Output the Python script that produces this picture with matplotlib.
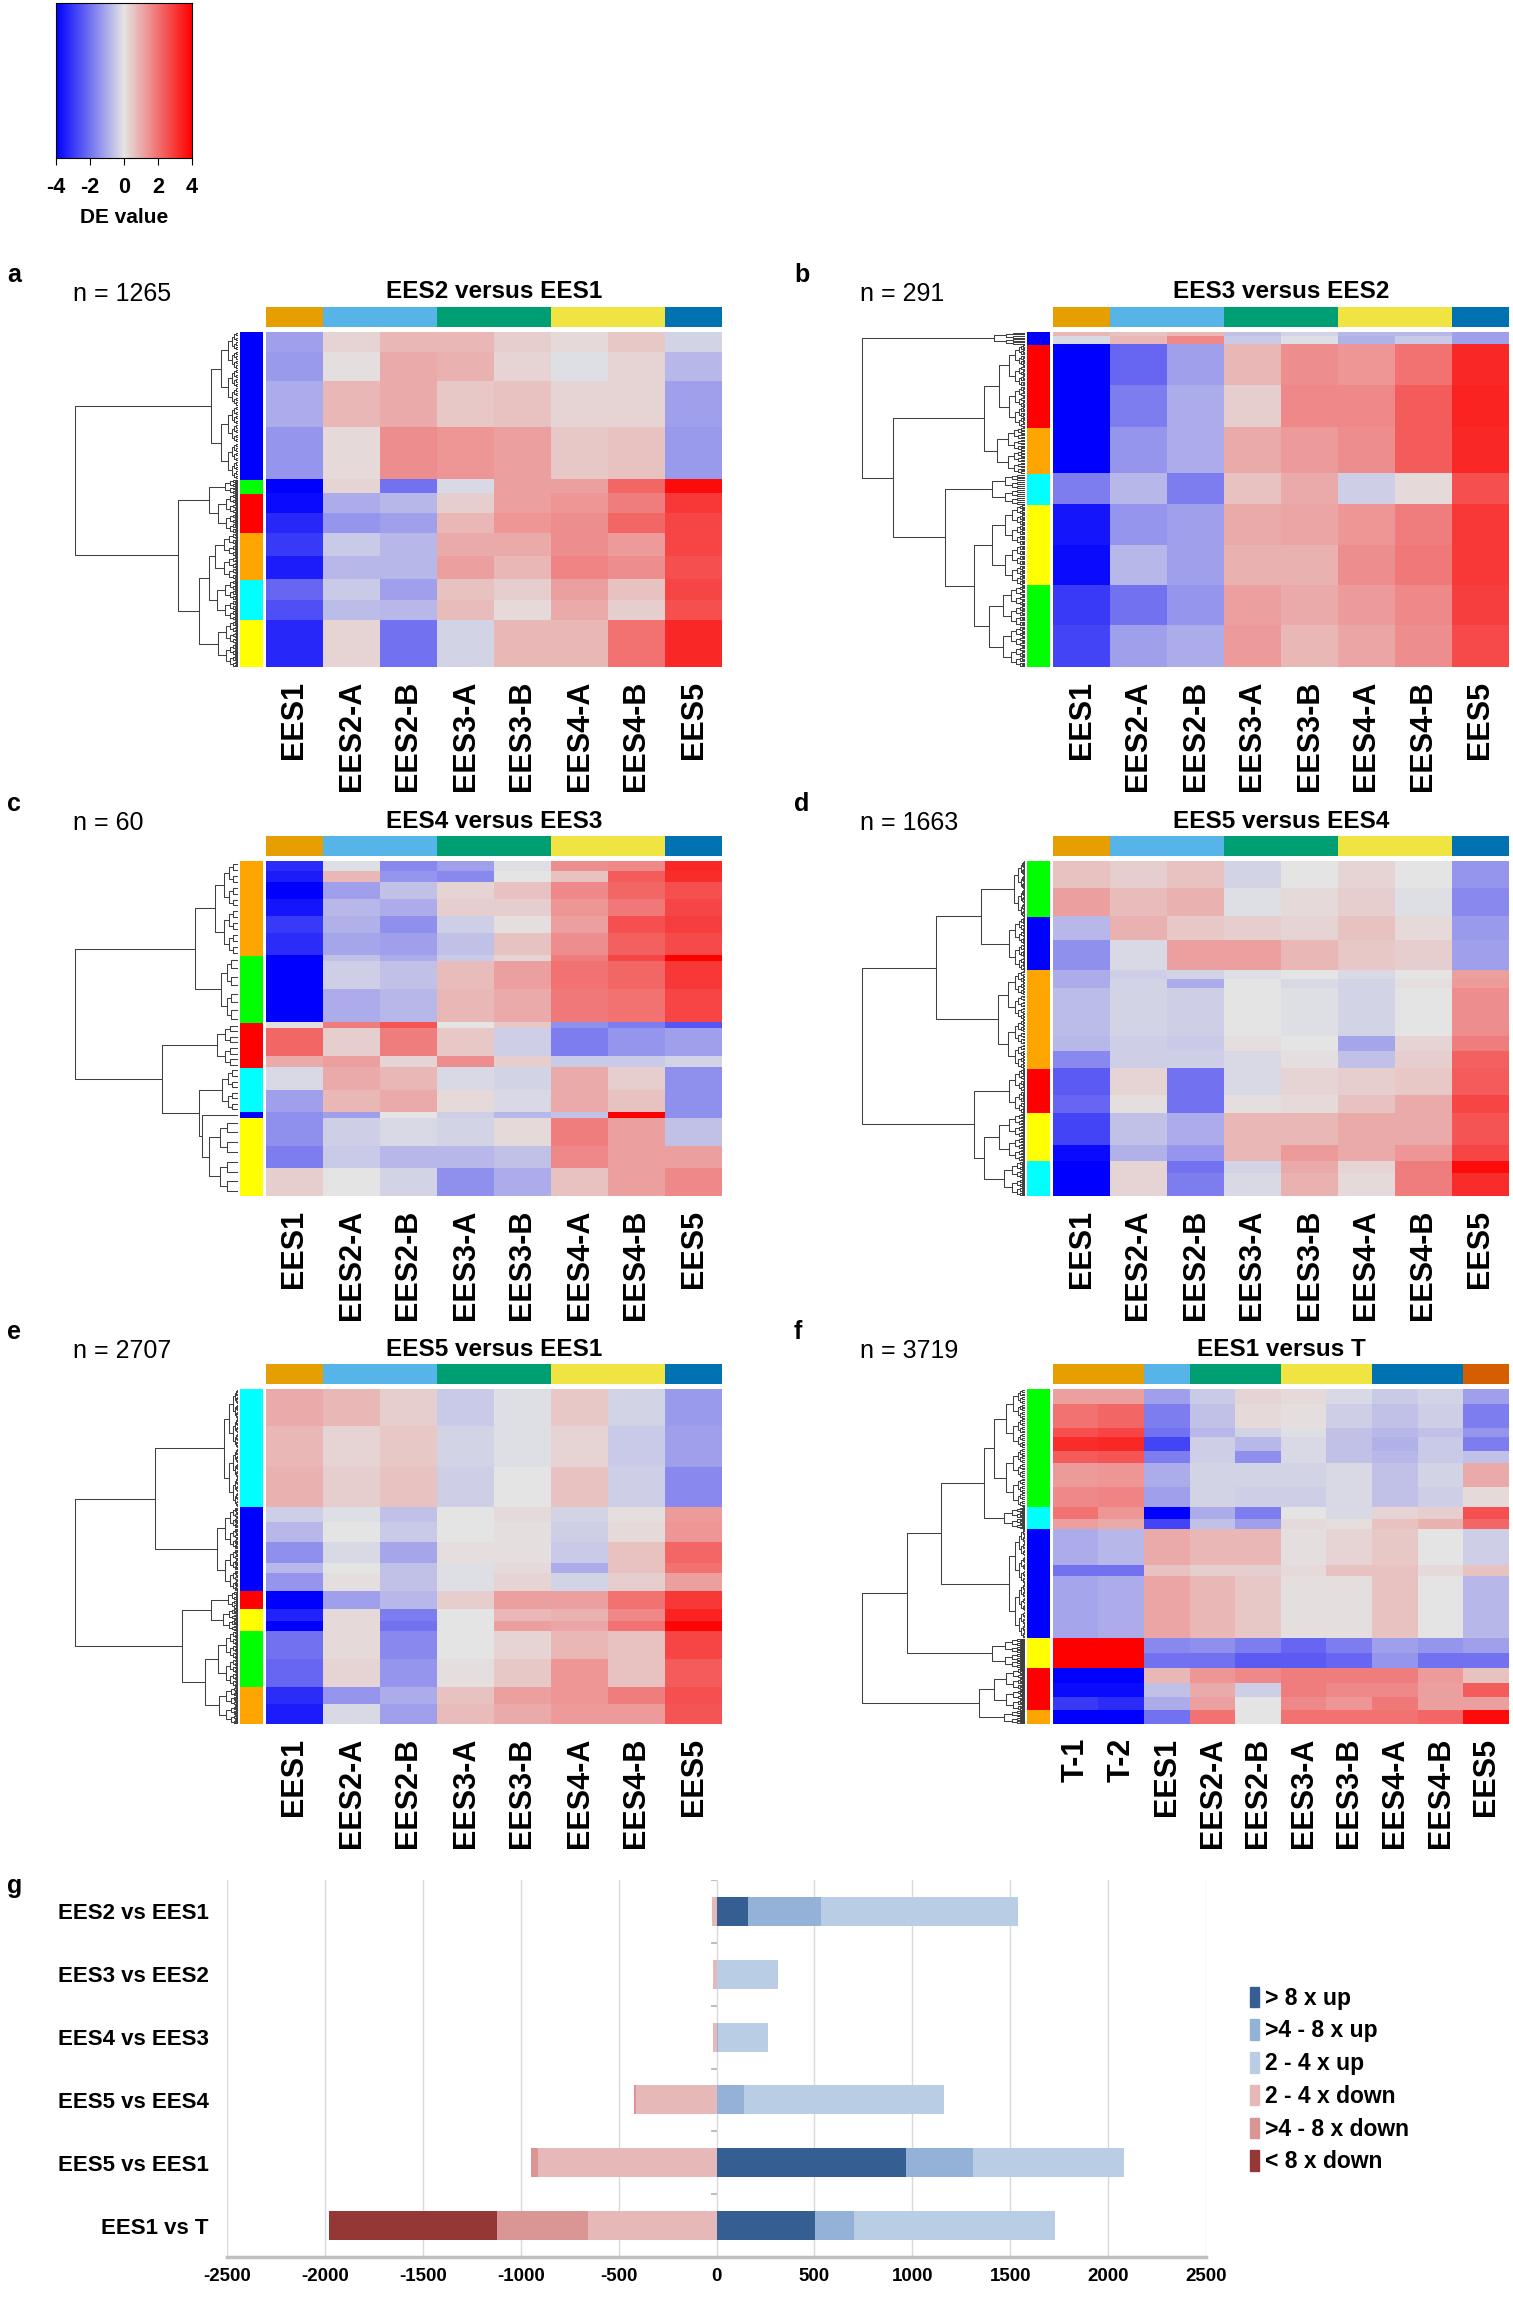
import numpy as np
import matplotlib.pyplot as plt
from matplotlib.colors import LinearSegmentedColormap
from matplotlib.collections import LineCollection
from matplotlib.patches import Patch

plt.rcParams['font.family'] = ['Liberation Sans', 'DejaVu Sans']
plt.rcParams['axes.unicode_minus'] = False

##########################
# column annotations
##########################
cols_ees = ["EES1", "EES2-A", "EES2-B", "EES3-A", "EES3-B", "EES4-A", "EES4-B", "EES5"]
groups_ees = [(1, "#E69F00"), (2, "#56B4E9"), (2, "#009E73"), (2, "#F0E442"), (1, "#0072B2")]
cols_t = ["T-1", "T-2", "EES1", "EES2-A", "EES2-B", "EES3-A", "EES3-B", "EES4-A", "EES4-B", "EES5"]
groups_t = [(2, "#E69F00"), (1, "#56B4E9"), (2, "#009E73"), (2, "#F0E442"), (2, "#0072B2"), (1, "#D55E00")]

row_colors = {"blue": "#0000FF", "green": "#00FF00", "red": "#FF0000",
              "orange": "#FFA500", "cyan": "#00FFFF", "yellow": "#FFFF00"}

##########################
# panel a : EES2 versus EES1
##########################
a_clusters = ["blue", "green", "red", "orange", "cyan", "yellow"]
a_bands = [
    (0, 80, [-1.2, 0.3, 0.8, 0.8, 0.4, 0.2, 0.5, -0.3]),
    (0, 110, [-1.3, 0.1, 1.0, 0.9, 0.3, -0.1, 0.3, -0.8]),
    (0, 170, [-1.0, 0.8, 1.0, 0.5, 0.6, 0.3, 0.3, -1.2]),
    (0, 197, [-1.4, 0.2, 1.5, 1.4, 1.2, 0.5, 0.6, -1.3]),
    (1, 54, [-4.5, 0.3, -2.0, -0.2, 1.2, 1.2, 2.2, 3.8]),
    (2, 74, [-3.8, -1.0, -0.8, 0.4, 1.2, 1.4, 1.8, 3.0]),
    (2, 74, [-3.3, -1.4, -1.2, 0.8, 1.4, 1.5, 2.2, 2.8]),
    (3, 88, [-3.0, -0.5, -0.8, 1.0, 1.0, 1.5, 1.3, 2.8]),
    (3, 88, [-3.5, -0.8, -0.8, 1.2, 0.8, 1.7, 1.5, 2.6]),
    (4, 77, [-2.2, -0.5, -1.2, 0.6, 0.4, 1.2, 0.6, 2.8]),
    (4, 77, [-2.6, -0.7, -0.8, 0.7, 0.2, 1.0, 0.4, 2.6]),
    (5, 176, [-3.3, 0.3, -2.0, -0.3, 0.8, 0.8, 2.0, 3.3]),
]
a_leaf_h = [0.166, 0.08, 0.12, 0.14, 0.13, 0.12]
a_tree = (1.0, 0, (0.367, (0.18, 1, 2), (0.24, (0.18, 3, 4), 5)))

##########################
# panel b : EES3 versus EES2
##########################
b_clusters = ["blue", "red", "orange", "cyan", "yellow", "green"]
b_bands = [
    (0, 4, [0.8, 0.6, 0.8, -0.6, -0.3, -0.8, -0.8, -1.2]),
    (0, 7, [-0.2, 0.8, 1.6, -0.5, -0.1, -0.9, -0.5, -1.2]),
    (1, 36, [-4.5, -2.2, -1.2, 0.8, 1.5, 1.4, 2.0, 3.3]),
    (1, 36, [-4.5, -1.8, -1.0, 0.4, 1.6, 1.6, 2.4, 3.4]),
    (2, 40, [-4.5, -1.4, -1.0, 1.0, 1.3, 1.5, 2.4, 3.3]),
    (3, 27, [-1.8, -0.8, -1.8, 0.6, 1.0, -0.4, 0.2, 2.6]),
    (4, 35, [-3.6, -1.4, -1.2, 1.0, 1.1, 1.4, 1.8, 3.0]),
    (4, 35, [-3.8, -0.8, -1.2, 0.9, 0.9, 1.5, 1.9, 3.0]),
    (5, 35, [-3.0, -2.0, -1.4, 1.2, 1.0, 1.3, 1.6, 2.9]),
    (5, 36, [-2.8, -1.2, -1.0, 1.3, 0.8, 1.1, 1.5, 2.7]),
]
b_leaf_h = [0.19, 0.16, 0.17, 0.2, 0.2, 0.22]
b_tree = (1.0, 0, (0.81, (0.25, 1, 2), (0.49, 3, (0.31, 4, 5))))

##########################
# panel c : EES4 versus EES3
##########################
c_clusters = ["orange", "green", "red", "cyan", "blue", "yellow"]
c_bands = [
    (0, 2, [-3.2, -0.1, -1.6, -1.2, -0.1, 1.5, 1.6, 3.3]),
    (0, 2, [-3.5, 0.8, -1.4, -1.6, 0.0, 0.6, 2.4, 3.2]),
    (0, 3, [-4.2, -1.2, -0.6, 0.3, 0.6, 1.6, 2.2, 2.6]),
    (0, 3, [-3.6, -0.8, -1.0, 0.4, 0.4, 1.4, 1.9, 2.8]),
    (0, 3, [-3.0, -0.9, -1.5, -0.4, 0.1, 1.2, 2.6, 2.9]),
    (0, 4, [-3.2, -1.1, -1.2, -0.6, 0.6, 1.5, 2.3, 2.7]),
    (1, 1, [-4.5, -0.6, -1.0, -0.5, 0.3, 1.8, 2.8, 4.0]),
    (1, 5, [-4.5, -0.4, -0.6, 0.7, 1.2, 2.0, 2.2, 3.0]),
    (1, 6, [-4.5, -1.0, -0.8, 0.8, 1.0, 1.9, 2.0, 2.8]),
    (2, 1, [0.1, 1.8, 2.5, 0.0, 0.5, -1.5, -1.8, -2.5]),
    (2, 5, [2.2, 0.4, 1.8, 0.5, -0.4, -1.8, -1.4, -1.2]),
    (2, 2, [1.0, 1.2, 0.3, 1.5, 0.4, -0.5, -0.5, -0.3]),
    (3, 4, [-0.2, 1.0, 0.8, -0.2, -0.3, 1.0, 0.4, -1.5]),
    (3, 4, [-1.2, 0.8, 1.0, 0.2, -0.2, 1.0, 0.6, -1.5]),
    (4, 1, [-1.5, -1.2, 0.0, -0.4, -0.8, -0.6, 4.0, -1.5]),
    (5, 5, [-1.5, -0.4, -0.2, -0.3, 0.2, 1.8, 1.2, -0.6]),
    (5, 4, [-1.8, -0.5, -0.8, -0.8, -0.6, 1.6, 1.2, 1.2]),
    (5, 5, [0.4, 0.0, -0.3, -1.5, -1.0, 0.6, 1.2, 1.6]),
]
c_leaf_h = [0.14, 0.105, 0.13, 0.1, 0.0, 0.18]
c_tree = (1.0, (0.265, 0, 1), (0.467, 2, (0.24, 3, (0.22, 4, 5))))

##########################
# panel d : EES5 versus EES4
##########################
d_clusters = ["green", "blue", "orange", "red", "yellow", "cyan"]
d_bands = [
    (0, 140, [0.6, 0.4, 0.6, -0.3, 0.0, 0.3, 0.0, -1.4]),
    (0, 139, [1.2, 0.7, 0.9, -0.1, 0.2, 0.4, -0.1, -1.6]),
    (1, 115, [-0.8, 0.9, 0.5, 0.4, 0.3, 0.6, 0.2, -1.3]),
    (1, 148, [-1.5, -0.2, 1.2, 1.2, 0.8, 0.5, 0.4, -1.2]),
    (2, 48, [-1.0, -0.4, -0.3, -0.1, 0.0, -0.2, 0.0, 1.2]),
    (2, 42, [-1.0, -0.3, -1.0, 0.0, -0.2, -0.3, 0.1, 1.3]),
    (2, 238, [-0.7, -0.3, -0.4, 0.0, -0.1, -0.3, 0.0, 1.5]),
    (2, 77, [-0.8, -0.4, -0.5, 0.1, 0.0, -1.1, 0.3, 1.8]),
    (2, 84, [-1.6, -0.4, -0.4, -0.2, 0.1, -0.6, 0.4, 2.3]),
    (3, 130, [-2.4, 0.3, -2.0, -0.2, 0.3, 0.4, 0.5, 2.4]),
    (3, 91, [-2.2, 0.1, -2.0, 0.1, 0.2, 0.6, 1.0, 2.8]),
    (4, 160, [-2.8, -0.6, -1.0, 0.8, 0.8, 1.0, 1.0, 2.5]),
    (4, 78, [-3.8, -0.9, -1.4, 0.8, 1.3, 1.0, 1.4, 2.8]),
    (5, 60, [-4.5, 0.3, -2.0, -0.3, 1.0, 0.3, 1.8, 3.8]),
    (5, 113, [-4.0, 0.3, -1.8, -0.2, 0.9, 0.2, 1.8, 3.2]),
]
d_leaf_h = [0.07, 0.1, 0.167, 0.1, 0.16, 0.13]
d_tree = (1.0, (0.546, (0.27, 0, 1), 2), (0.313, 3, (0.25, 4, 5)))

##########################
# panel e : EES5 versus EES1
##########################
e_clusters = ["cyan", "blue", "red", "yellow", "green", "orange"]
e_bands = [
    (0, 300, [1.0, 0.8, 0.4, -0.5, -0.1, 0.5, -0.3, -1.3]),
    (0, 330, [0.8, 0.3, 0.5, -0.3, -0.1, 0.3, -0.5, -1.2]),
    (0, 324, [0.9, 0.4, 0.6, -0.4, 0.0, 0.6, -0.4, -1.6]),
    (1, 117, [-0.4, -0.1, -0.6, 0.0, 0.2, -0.3, 0.1, 1.3]),
    (1, 167, [-0.8, 0.0, -0.5, 0.0, 0.1, -0.4, 0.2, 1.4]),
    (1, 167, [-1.5, -0.2, -1.1, 0.1, 0.1, -0.5, 0.6, 2.2]),
    (1, 83, [-0.8, 0.0, -0.6, -0.1, 0.2, -1.0, 0.6, 2.0]),
    (1, 145, [-1.4, 0.1, -0.6, -0.1, 0.3, -0.3, 0.4, 1.2]),
    (2, 142, [-4.5, -1.2, -0.8, 0.4, 1.2, 1.2, 2.0, 3.0]),
    (3, 100, [-3.4, 0.2, -1.8, 0.0, 0.8, 0.9, 1.6, 3.4]),
    (3, 78, [-4.4, 0.2, -2.0, 0.0, 1.2, 1.1, 2.0, 3.9]),
    (4, 230, [-2.0, 0.2, -1.6, 0.0, 0.3, 0.8, 0.6, 2.8]),
    (4, 223, [-2.2, 0.3, -1.4, 0.1, 0.5, 1.4, 0.6, 2.4]),
    (5, 140, [-3.2, -1.4, -1.0, 0.6, 1.2, 1.4, 1.8, 2.6]),
    (5, 161, [-3.5, -0.2, -1.2, 0.7, 1.0, 1.3, 1.3, 2.5]),
]
e_leaf_h = [0.085, 0.127, 0.06, 0.09, 0.12, 0.115]
e_tree = (1.0, (0.506, 0, 1), (0.34, (0.166, 2, 3), (0.205, 4, 5)))

##########################
# panel f : EES1 versus T
##########################
f_clusters = ["green", "cyan", "blue", "yellow", "red", "orange"]
f_bands = [
    (0, 171, [1.2, 1.2, -1.2, -0.5, 0.3, 0.2, -0.2, -0.5, -0.3, -1.2]),
    (0, 258, [2.0, 2.2, -1.8, -0.6, 0.2, 0.1, -0.4, -0.6, -0.4, -1.8]),
    (0, 99, [2.6, 2.8, -2.0, -0.8, -0.3, -0.1, -0.6, -0.8, -0.6, -1.4]),
    (0, 159, [3.2, 3.3, -2.8, -0.4, -0.8, -0.2, -0.6, -0.9, -0.5, -1.8]),
    (0, 139, [2.4, 2.5, -1.8, -0.4, -1.5, -0.2, -0.6, -0.8, -0.5, -0.6]),
    (0, 258, [1.3, 1.4, -1.0, -0.3, -0.3, -0.3, -0.2, -0.6, -0.3, 1.0]),
    (0, 229, [1.6, 1.7, -1.2, -0.3, -0.4, -0.4, -0.2, -0.6, -0.4, 0.2]),
    (1, 127, [2.0, 1.4, -4.0, -1.0, -1.8, 0.0, -0.2, 0.3, 0.4, 2.6]),
    (1, 111, [1.2, 1.0, -2.8, -0.6, -1.2, 0.2, 0.1, 0.6, 0.9, 2.2]),
    (2, 400, [-1.0, -0.8, 1.0, 0.8, 0.8, 0.1, 0.3, 0.5, 0.0, -0.4]),
    (2, 120, [-2.0, -2.0, 0.6, 0.4, 0.4, 0.2, 0.6, 0.6, 0.2, 0.6]),
    (2, 697, [-1.1, -1.0, 1.1, 0.8, 0.5, 0.1, 0.1, 0.6, 0.0, -0.8]),
    (3, 160, [4.5, 4.5, -1.6, -1.5, -1.8, -2.2, -1.8, -1.2, -1.4, -1.2]),
    (3, 169, [4.5, 4.5, -2.0, -2.0, -2.4, -2.4, -2.2, -1.4, -2.0, -2.0]),
    (4, 166, [-4.0, -4.0, 0.8, 1.4, 1.6, 1.8, 1.8, 1.8, 1.3, 0.6]),
    (4, 158, [-3.8, -3.8, -0.6, 1.0, -0.4, 1.8, 1.6, 1.6, 1.2, 2.4]),
    (4, 147, [-3.0, -3.2, -1.0, 1.2, 0.0, 1.6, 1.4, 1.9, 1.2, 1.2]),
    (5, 151, [-4.5, -4.5, -2.0, 2.0, 0.0, 2.0, 2.0, 2.0, 2.2, 3.8]),
]
f_leaf_h = [0.19, 0.13, 0.1, 0.2, 0.19, 0.13]
f_tree = (1.0, (0.72, (0.516, (0.25, 0, 1), 2), 3), (0.28, 4, 5))

##########################
# panel g : DE counts
##########################
comparisons = ["EES2 vs EES1", "EES3 vs EES2", "EES4 vs EES3", "EES5 vs EES4", "EES5 vs EES1", "EES1 vs T"]
up8 = [160, 0, 0, 0, 966, 502]
up48 = [375, 5, 10, 143, 344, 202]
up24 = [1005, 310, 251, 1020, 769, 1025]
down24 = [25, 20, 20, 409, 911, 655]
down48 = [0, 0, 0, 10, 35, 468]
down8 = [0, 0, 0, 0, 0, 857]
g_labels = ["> 8 x up", ">4 - 8 x up", "2 - 4 x up", "2 - 4 x down", ">4 - 8 x down", "< 8 x down"]
g_colors = ["#355E93", "#94B2D7", "#B9CDE5", "#E6B9B8", "#D99694", "#953735"]

##########################
# figure
##########################
W, H = 1513, 2297
fig = plt.figure(figsize=(W / 100, H / 100), dpi=100)
de_cmap = LinearSegmentedColormap.from_list("de", ["#0000FF", "#E5E5E5", "#FF0000"])


def box(x0, y0, x1, y1):
    return [x0 / W, 1 - y1 / H, (x1 - x0) / W, (y1 - y0) / H]


def fine(segs, r0, r1, h, depth):
    if depth == 0 or r1 - r0 < 2:
        return (r0 + r1) / 2, 0.0
    mid = (r0 + r1) / 2
    ya, ha = fine(segs, r0, mid, h * 0.62, depth - 1)
    yb, hb = fine(segs, mid, r1, h * 0.62, depth - 1)
    segs.append([(ha, ya), (h, ya), (h, yb), (hb, yb)])
    return (ya + yb) / 2, h


def walk(segs, node, spans, leaf_h):
    if isinstance(node, int):
        r0, r1 = spans[node]
        return fine(segs, r0, r1, leaf_h[node], 6)
    h, a, b = node
    ya, ha = walk(segs, a, spans, leaf_h)
    yb, hb = walk(segs, b, spans, leaf_h)
    segs.append([(ha, ya), (h, ya), (h, yb), (hb, yb)])
    return (ya + yb) / 2, h


def heat_panel(letter, title, n, cols, groups, clusters, bands, leaf_h, tree, xoff, top):
    mat = np.vstack([np.repeat([vals], rows, axis=0) for _, rows, vals in bands])
    nrow = mat.shape[0]
    counts = [sum(r for c, r, _ in bands if c == k) for k in range(len(clusters))]
    starts = np.concatenate([[0], np.cumsum(counts)[:-1]])
    spans = [(s, s + c) for s, c in zip(starts, counts)]
    bottom = top + 335

    # heatmap
    ax = fig.add_axes(box(266 + xoff, top, 722 + xoff, bottom))
    ax.imshow(mat, aspect="auto", cmap=de_cmap, vmin=-4, vmax=4, interpolation="nearest")
    ax.set_xticks(range(len(cols)))
    ax.set_xticklabels(cols, rotation=90, fontsize=22, fontweight="bold")
    ax.tick_params(axis="x", length=0, pad=10)
    ax.set_yticks([])
    for s in ax.spines.values():
        s.set_visible(False)

    # column colour bar
    axt = fig.add_axes(box(266 + xoff, top - 25, 722 + xoff, top - 5))
    gcount = [g[0] for g in groups]
    gstart = np.concatenate([[0], np.cumsum(gcount)[:-1]])
    axt.bar(gstart, 1, width=gcount, align="edge", color=[g[1] for g in groups])
    axt.set_xlim(0, len(cols))
    axt.set_ylim(0, 1)
    axt.axis("off")

    # row colour bar
    axr = fig.add_axes(box(240 + xoff, top, 263 + xoff, bottom))
    axr.bar(0, counts, bottom=starts, width=1, align="edge",
            color=[row_colors[c] for c in clusters])
    axr.set_xlim(0, 1)
    axr.set_ylim(nrow, 0)
    axr.axis("off")

    # dendrogram
    axd = fig.add_axes(box(73 + xoff, top, 238 + xoff, bottom))
    segs = []
    walk(segs, tree, spans, leaf_h)
    axd.add_collection(LineCollection(segs, colors="#404040", linewidths=0.75))
    axd.set_xlim(1.01, 0)
    axd.set_ylim(nrow, 0)
    axd.axis("off")

    # texts
    fig.text((7 + xoff) / W, 1 - (top - 57) / H, letter, fontsize=18, fontweight="bold", va="center")
    fig.text((73 + xoff) / W, 1 - (top - 38) / H, "n = %d" % n, fontsize=18, va="center")
    fig.text((494 + xoff) / W, 1 - (top - 40) / H, title, fontsize=17.5, fontweight="bold",
             ha="center", va="center")


heat_panel("a", "EES2 versus EES1", 1265, cols_ees, groups_ees, a_clusters, a_bands, a_leaf_h, a_tree, 0, 332)
heat_panel("b", "EES3 versus EES2", 291, cols_ees, groups_ees, b_clusters, b_bands, b_leaf_h, b_tree, 787, 332)
heat_panel("c", "EES4 versus EES3", 60, cols_ees, groups_ees, c_clusters, c_bands, c_leaf_h, c_tree, 0, 861)
heat_panel("d", "EES5 versus EES4", 1663, cols_ees, groups_ees, d_clusters, d_bands, d_leaf_h, d_tree, 787, 861)
heat_panel("e", "EES5 versus EES1", 2707, cols_ees, groups_ees, e_clusters, e_bands, e_leaf_h, e_tree, 0, 1389)
heat_panel("f", "EES1 versus T", 3719, cols_t, groups_t, f_clusters, f_bands, f_leaf_h, f_tree, 787, 1389)

##########
# colour key
##########
axc = fig.add_axes(box(56, 3, 192, 158))
axc.imshow(np.linspace(-4, 4, 256)[None, :], aspect="auto", cmap=de_cmap, extent=[-4, 4, 0, 1])
axc.set_xticks([-4, -2, 0, 2, 4])
axc.set_xticklabels(["-4", "-2", "0", "2", "4"], fontsize=15.5, fontweight="bold")
axc.tick_params(axis="x", length=5, pad=9, width=0.8)
axc.set_yticks([])
axc.set_xlabel("DE value", fontsize=15, fontweight="bold", labelpad=7)
for s in axc.spines.values():
    s.set_linewidth(0.8)

##########
# bar chart g
##########
fig.text(7 / W, 1 - 1886 / H, "g", fontsize=18, fontweight="bold", va="center")
axg = fig.add_axes(box(227, 1880, 1206, 2257))
y = np.arange(len(comparisons))
u1 = np.array(up8)
u2 = np.array(up48)
u3 = np.array(up24)
d1 = np.array(down24)
d2 = np.array(down48)
d3 = np.array(down8)
bh = 0.46
axg.barh(y, u1, left=0, height=bh, color=g_colors[0])
axg.barh(y, u2, left=u1, height=bh, color=g_colors[1])
axg.barh(y, u3, left=u1 + u2, height=bh, color=g_colors[2])
axg.barh(y, -d1, left=0, height=bh, color=g_colors[3])
axg.barh(y, -d2, left=-d1, height=bh, color=g_colors[4])
axg.barh(y, -d3, left=-(d1 + d2), height=bh, color=g_colors[5])
axg.hlines(np.arange(-0.5, len(comparisons) - 0.5), -30, 0, color="#BFBFBF", lw=1.5)
axg.set_xlim(-2500, 2500)
axg.set_ylim(len(comparisons) - 0.5, -0.5)
axg.set_xticks(range(-2500, 2501, 500))
axg.set_xticklabels([str(v) for v in range(-2500, 2501, 500)], fontsize=13.5, fontweight="bold")
axg.set_yticks(y)
axg.set_yticklabels(comparisons, fontsize=16, fontweight="bold")
axg.tick_params(axis="both", length=0)
axg.tick_params(axis="x", pad=8)
axg.tick_params(axis="y", pad=13)
axg.grid(axis="x", color="#D9D9D9", lw=1)
axg.set_axisbelow(True)
for k in ["top", "left", "right"]:
    axg.spines[k].set_visible(False)
axg.spines["bottom"].set_color("#BFBFBF")
axg.spines["bottom"].set_linewidth(2.5)

handles = [Patch(color=c) for c in g_colors]
fig.legend(handles, g_labels, loc="upper left", bbox_to_anchor=(1229 / W, 1 - 1966 / H),
           frameon=False, handlelength=0.4, handleheight=1.0, handletextpad=0.25,
           labelspacing=0.42, prop={"weight": "bold", "size": 16.5})

fig.savefig("out.png", dpi=100)
